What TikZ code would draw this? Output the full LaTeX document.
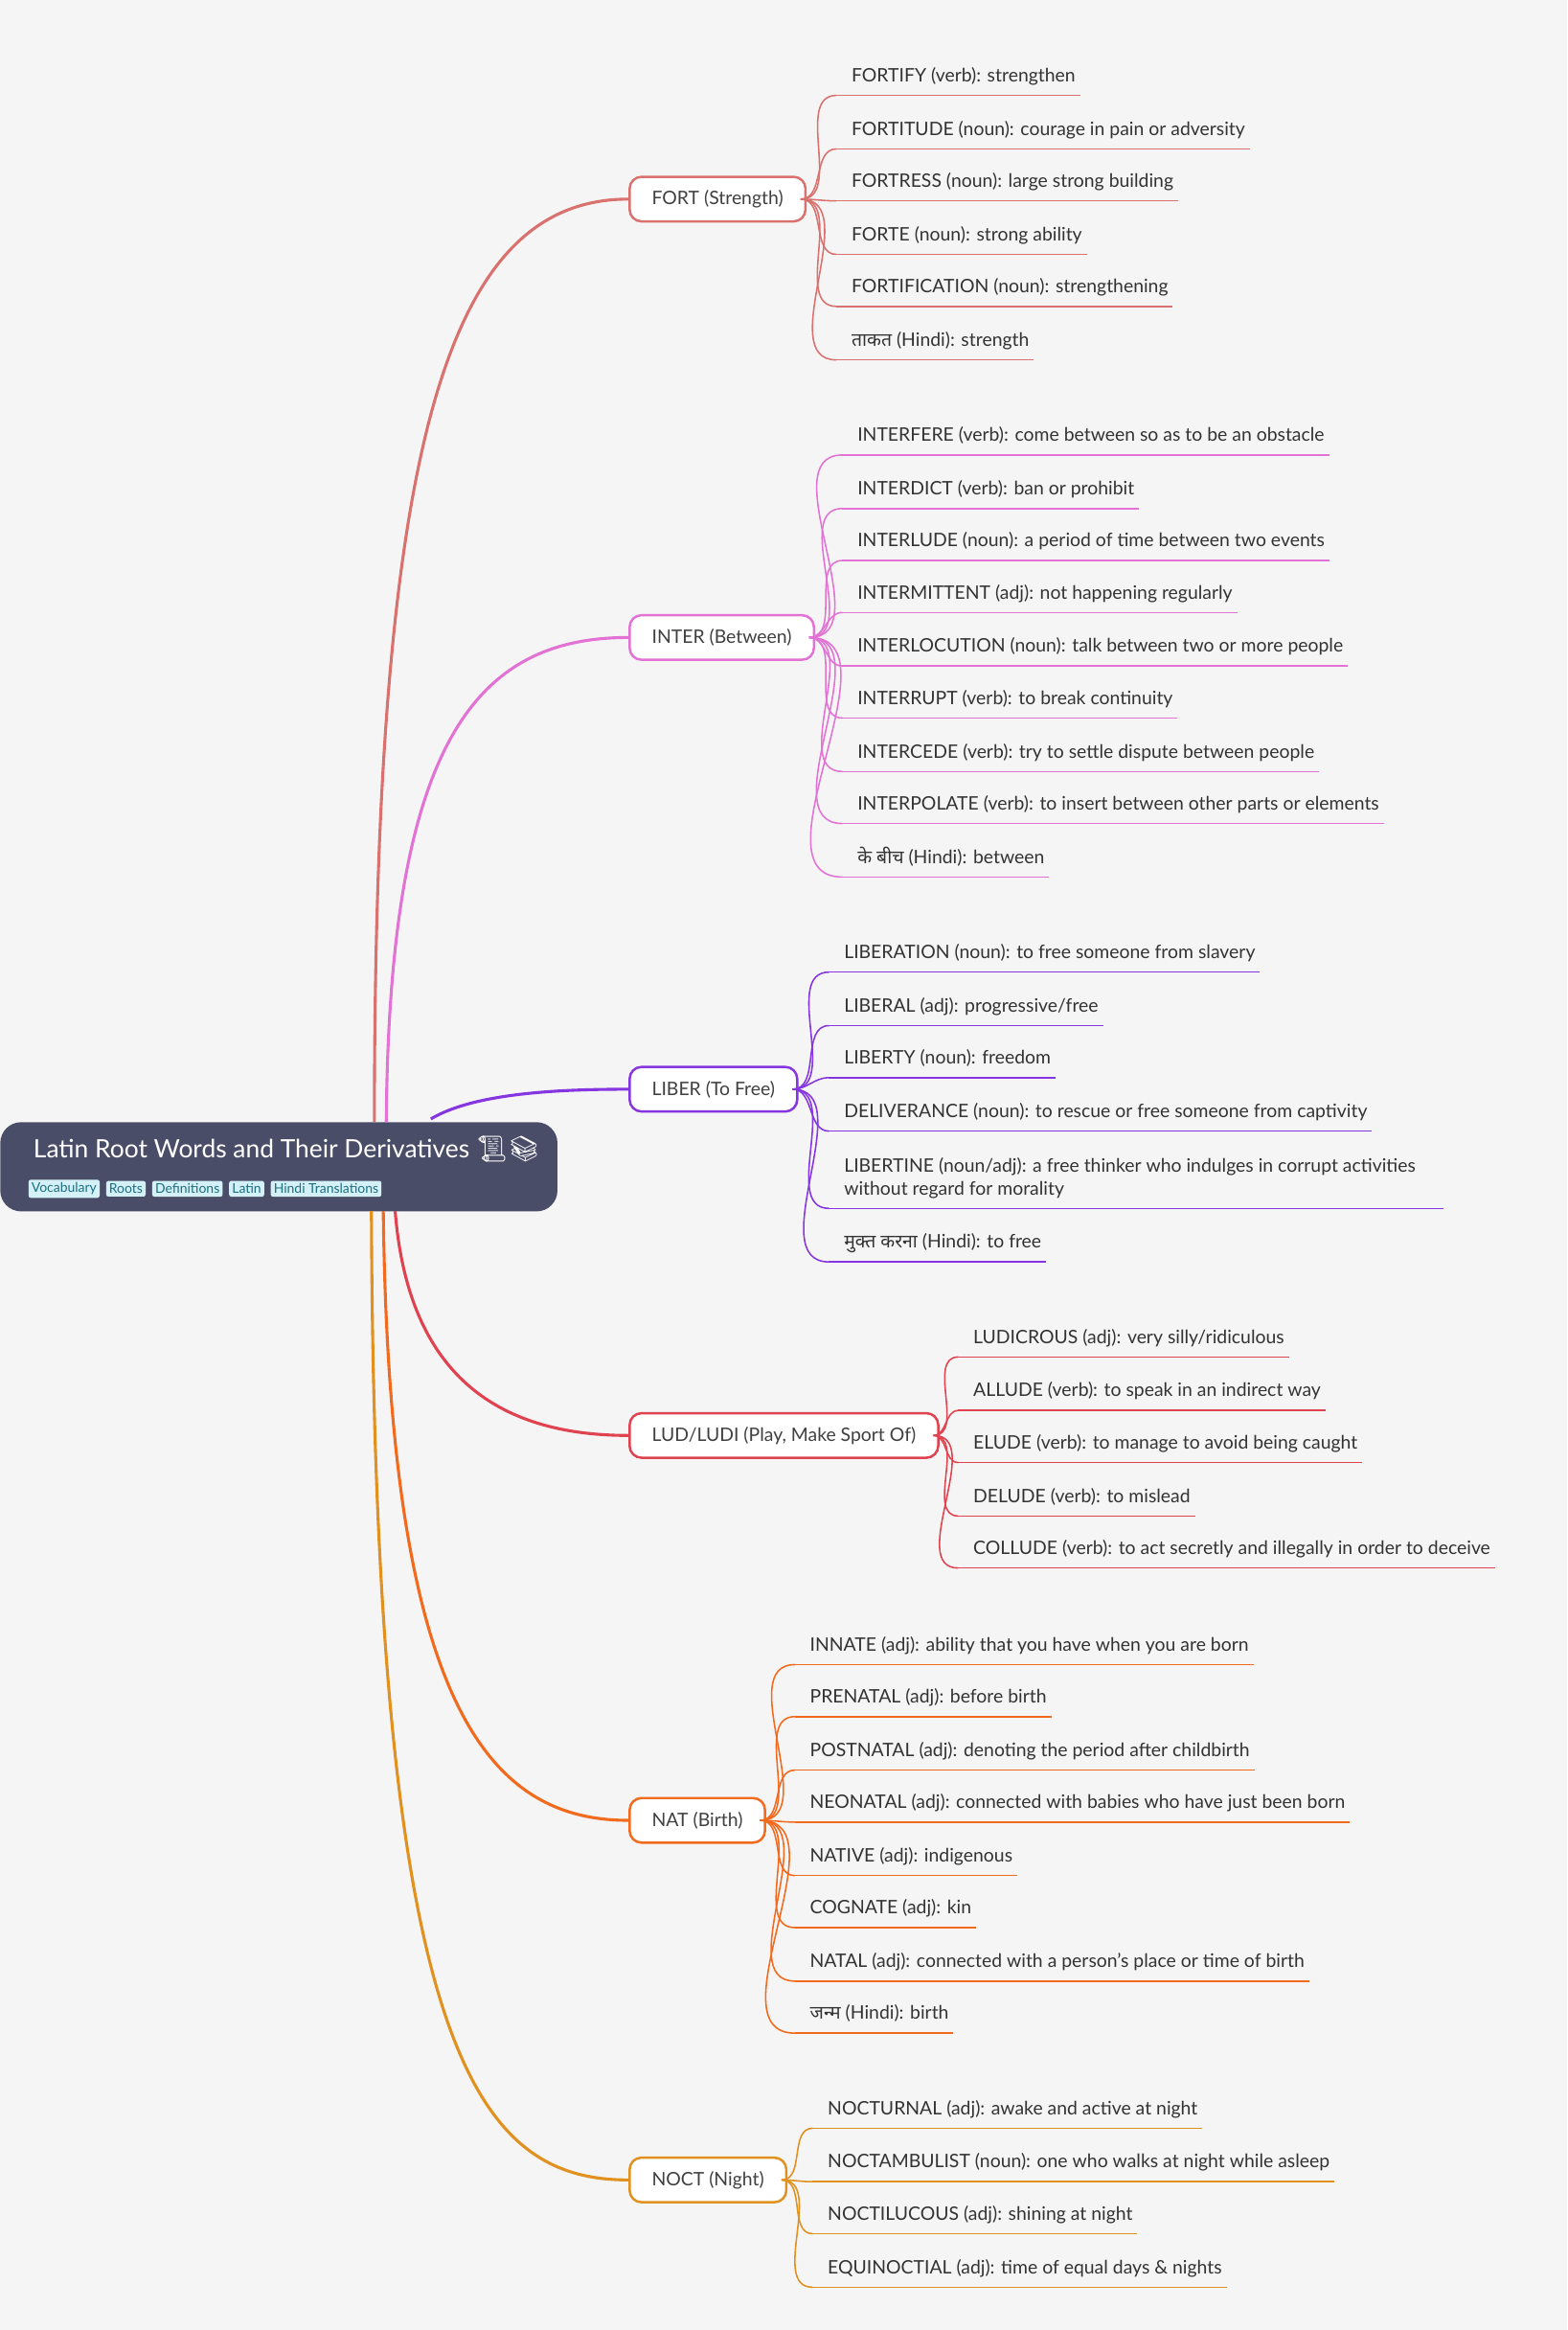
\documentclass[tikz,border=0pt]{standalone}
\usepackage{fontspec}
\setmainfont{Lato}
\newfontfamily\hindifont[Script=Devanagari]{Noto Sans}
\newfontfamily\emojifont{Noto Emoji}
\newcommand{\hi}[1]{{\hindifont #1}}
\usetikzlibrary{positioning}

\definecolor{bgc}{HTML}{F5F5F5}
\definecolor{rootc}{HTML}{4A4D68}
\definecolor{tagc}{HTML}{D4F1F7}
\definecolor{tagtext}{HTML}{1E6F80}
\definecolor{fortc}{HTML}{D9726E}
\definecolor{interc}{HTML}{E272D3}
\definecolor{liberc}{HTML}{8636E0}
\definecolor{ludc}{HTML}{E0434F}
\definecolor{natc}{HTML}{F26A1E}
\definecolor{noctc}{HTML}{E0911F}

\tikzset{
  rootword/.style={draw=#1, line width=1.6pt, rounded corners=8pt, fill=white,
    minimum height=30pt, inner xsep=15pt, anchor=west, text=black!75, font=\fontsize{12.5}{15}\selectfont},
  leafword/.style={inner sep=0pt, anchor=base west, text=black!80, text depth=4pt,
    font=\fontsize{12.5}{15}\selectfont},
  tag/.style={fill=tagc, text=tagtext, rounded corners=1.5pt, inner xsep=2pt, inner ysep=2pt,
    font=\fontsize{9}{10}\selectfont}
}

% \leaves{parent}{colour}{x}{list y/text}
\newcommand{\leaves}[4]{%
  \foreach \y/\t in {#4} {
    \node[leafword] (#1-\y) at (#3,\y+5) {\t};
    \draw[#2, line width=1pt] ([xshift=-10pt,yshift=-5pt]#1-\y.south west) -- ([xshift=3pt,yshift=-5pt]#1-\y.south east);
    \draw[#2, line width=1pt] ([xshift=-4pt]#1.east) to[out=0,in=180] ([xshift=-10pt,yshift=-5pt]#1-\y.south west);
  }}

\begin{document}
\begin{tikzpicture}[x=1pt, y=-1pt]
\fill[bgc] (0,0) rectangle (1055,1568);
\useasboundingbox (0,0) rectangle (1055,1568);

% Root
\node[fill=rootc, rounded corners=14pt, minimum width=375pt, minimum height=60pt, anchor=north west] (root) at (0,755) {};
\node[anchor=base west, text=white, font=\fontsize{17}{20}\selectfont] (title) at (19,779) {Latin Root Words and Their Derivatives {\emojifont 📜📚}};
\node[tag, anchor=west] (t1) at (19,800) {Vocabulary};
\node[tag, right=4pt of t1] (t2) {Roots};
\node[tag, right=4pt of t2] (t3) {Definitions};
\node[tag, right=4pt of t3] (t4) {Latin};
\node[tag, right=4pt of t4] (t5) {Hindi Translations};

% Roots
\node[rootword=fortc] (fort) at (423,134) {FORT (Strength)};
\node[rootword=interc] (inter) at (423,429) {INTER (Between)};
\node[rootword=liberc] (liber) at (423,733) {LIBER (To Free)};
\node[rootword=ludc] (lud) at (423,966) {LUD/LUDI (Play, Make Sport Of)};
\node[rootword=natc] (nat) at (423,1225) {NAT (Birth)};
\node[rootword=noctc] (noct) at (423,1467) {NOCT (Night)};

% Branches
\draw[fortc, line width=2pt] (252,755) .. controls (252,300) and (300,134) .. (fort.west);
\draw[interc, line width=2pt] (260,755) .. controls (262,500) and (320,429) .. (inter.west);
\draw[liberc, line width=2pt] (290,753) .. controls (320,735) and (380,733) .. (liber.west);
\draw[ludc, line width=2pt] (266,815) .. controls (275,930) and (340,966) .. (lud.west);
\draw[natc, line width=2pt] (258,815) .. controls (262,1150) and (330,1225) .. (nat.west);
\draw[noctc, line width=2pt] (250,815) .. controls (252,1380) and (320,1467) .. (noct.west);

% Leaves
\leaves{fort}{fortc}{573}{50/{FORTIFY (verb): strengthen}, 86/{FORTITUDE (noun): courage in pain or adversity},
  121/{FORTRESS (noun): large strong building}, 157/{FORTE (noun): strong ability},
  192/{FORTIFICATION (noun): strengthening}, 228/{\hi{ताकत} (Hindi): strength}}
\leaves{inter}{interc}{577}{292/{INTERFERE (verb): come between so as to be an obstacle}, 328/{INTERDICT (verb): ban or prohibit},
  363/{INTERLUDE (noun): a period of time between two events}, 398/{INTERMITTENT (adj): not happening regularly},
  434/{INTERLOCUTION (noun): talk between two or more people}, 469/{INTERRUPT (verb): to break continuity},
  505/{INTERCEDE (verb): try to settle dispute between people}, 540/{INTERPOLATE (verb): to insert between other parts or elements},
  576/{\hi{के बीच} (Hindi): between}}
\leaves{liber}{liberc}{568}{640/{LIBERATION (noun): to free someone from slavery}, 676/{LIBERAL (adj): progressive/free},
  711/{LIBERTY (noun): freedom}, 747/{DELIVERANCE (noun): to rescue or free someone from captivity},
  799/{\parbox[b]{400pt}{\raggedright LIBERTINE (noun/adj): a free thinker who indulges in corrupt activities\\without regard for morality}},
  835/{\hi{मुक्त करना} (Hindi): to free}}
\leaves{lud}{ludc}{655}{899/{LUDICROUS (adj): very silly/ridiculous}, 935/{ALLUDE (verb): to speak in an indirect way},
  970/{ELUDE (verb): to manage to avoid being caught}, 1006/{DELUDE (verb): to mislead},
  1041/{COLLUDE (verb): to act secretly and illegally in order to deceive}}
\leaves{nat}{natc}{545}{1106/{INNATE (adj): ability that you have when you are born}, 1141/{PRENATAL (adj): before birth},
  1177/{POSTNATAL (adj): denoting the period after childbirth}, 1212/{NEONATAL (adj): connected with babies who have just been born},
  1248/{NATIVE (adj): indigenous}, 1283/{COGNATE (adj): kin},
  1319/{NATAL (adj): connected with a person's place or time of birth}, 1354/{\hi{जन्म} (Hindi): birth}}
\leaves{noct}{noctc}{557}{1418/{NOCTURNAL (adj): awake and active at night}, 1454/{NOCTAMBULIST (noun): one who walks at night while asleep},
  1489/{NOCTILUCOUS (adj): shining at night}, 1525/{EQUINOCTIAL (adj): time of equal days \& nights}}
\end{tikzpicture}
\end{document}
